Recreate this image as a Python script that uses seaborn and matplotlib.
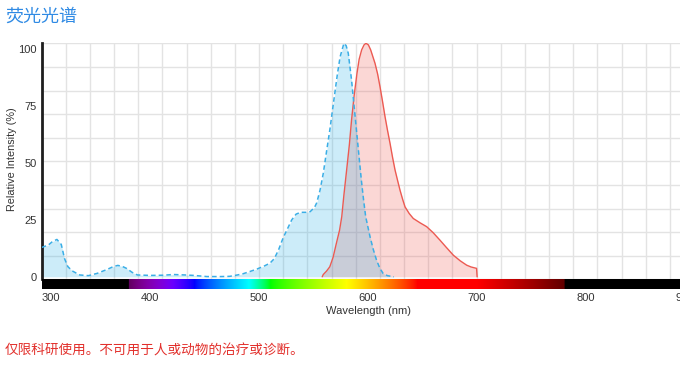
import numpy as np
import pandas as pd
import matplotlib
matplotlib.use("Agg")
import matplotlib.pyplot as plt
import seaborn as sns

# ---------------- data ----------------
ex_wl = [300, 306, 310, 314, 318, 321, 324, 328, 335, 343, 351, 360, 366, 370, 374, 378,
         383, 388, 400, 412, 421, 432, 440, 452, 465, 473, 480, 485, 492, 498, 505, 510,
         514, 518, 522, 526, 530, 534, 538, 543, 547, 551, 553, 556, 559, 562, 565, 568,
         570, 572, 574.5, 578, 580, 582, 585, 588, 591, 594, 596, 598, 602, 605, 608, 611,
         614, 618, 624]
ex_val = [12.9, 13.9, 15.5, 16.4, 14.2, 8.0, 4.5, 2.6, 0.8, 0.5, 1.5, 3.2, 4.5, 5.0, 4.6, 3.7,
          2.0, 0.8, 0.6, 0.7, 1.0, 0.8, 0.6, 0.1, 0.1, 0.2, 0.8, 1.3, 2.4, 3.4, 4.8, 6.0,
          8.0, 12.0, 17.0, 21.0, 25.0, 27.5, 28.3, 28.3, 28.6, 30.5, 32.5, 38.0, 45.4, 55.0, 64.4, 75.0,
          82.0, 89.0, 96.6, 102.5, 101.5, 98.1, 86.4, 71.8, 57.1, 42.5, 34.0, 26.4, 17.6, 12.0, 7.3, 3.8,
          1.5, 0.5, 0.0]

em_wl = [558, 559, 562, 565, 568, 571, 574, 576, 578, 580.5, 583, 585, 587.5, 590, 592, 594.3,
         596.5, 598.3, 600.5, 602.6, 606.6, 609, 611.2, 613.5, 615.8, 618, 620.4, 622.7, 625, 627.5,
         629.6, 632, 634.2, 638, 641.8, 648, 654.1, 660, 666.3, 672, 678.6, 685, 690.9, 695, 700, 700.5]
em_val = [0.0, 1.0, 2.5, 4.4, 8.5, 14.6, 20.5, 26.4, 36.0, 46.9, 58.0, 68.8, 80.0, 89.3, 95.5, 99.6,
          101.8, 102.5, 101.8, 99.6, 93.7, 89.0, 83.4, 77.0, 70.3, 64.5, 58.6, 52.5, 46.9, 42.0,
          38.0, 34.0, 30.7, 27.8, 25.6, 23.7, 22.0, 19.4, 16.1, 13.0, 9.5, 7.0, 5.1, 4.3, 3.7, 0.0]

x_ticks = [300, 400, 500, 600, 700, 800, 900]
y_ticks = [0, 25, 50, 75, 100]

title = "荧光光谱"
footer = "仅限科研使用。不可用于人或动物的治疗或诊断。"
x_label = "Wavelength (nm)"
y_label = "Relative Intensity (%)"

# ---------------- style ----------------
sns.set_style("white")
plt.rcParams["font.family"] = ["Liberation Sans", "Noto Sans CJK SC", "DejaVu Sans"]
cjk = ["Noto Sans CJK SC", "DejaVu Sans"]

W, H = 680, 367
fig = plt.figure(figsize=(W / 100, H / 100), dpi=100)


def box(l, t, r, b):
    return [l / W, 1 - b / H, (r - l) / W, (b - t) / H]


ax = fig.add_axes(box(41.7, 43.3, 694, 279.3))
cax = fig.add_axes(box(41.7, 279.3, 694, 289.3))

ex = pd.DataFrame({"wl": ex_wl, "val": ex_val})
em = pd.DataFrame({"wl": em_wl, "val": em_val})

blue = "#3aaee6"
red = "#ec5a52"

ax.fill_between(em["wl"], em["val"], 0, color="#ee4a44", alpha=0.22, lw=0, zorder=2)
ax.fill_between(ex["wl"], ex["val"], 0, color="#10a8e6", alpha=0.21, lw=0, zorder=2)
sns.lineplot(data=em, x="wl", y="val", ax=ax, color=red, lw=1.0, sort=False, zorder=3)
sns.lineplot(data=ex, x="wl", y="val", ax=ax, color=blue, lw=1.1, sort=False,
             dashes=False, zorder=3).lines[-1].set_dashes([3, 2])

y_lo, y_hi = -1.1, 102.5
ax.set_xlim(300, 900)
ax.set_ylim(y_lo, y_hi)
ax.set_xticks([])
ax.set_xticks(np.linspace(300, 900, 28), minor=True)
ax.set_yticks(y_ticks)
ax.set_yticklabels([str(v) for v in y_ticks])
ax.set_yticks(np.linspace(y_lo, y_hi, 11), minor=True)
ax.tick_params(which="both", length=0)
ax.tick_params(axis="y", labelsize=8, labelcolor="#333333", pad=3.5)
ax.grid(which="minor", color="#e3e3e3", lw=1.0)
ax.grid(which="major", visible=False)
ax.set_axisbelow(True)
ax.set_xlabel("")
ax.set_ylabel("")
for s in ["top", "right", "bottom"]:
    ax.spines[s].set_visible(False)
ax.spines["left"].set_color("#1e1e1e")
ax.spines["left"].set_linewidth(2.0)


# spectrum colour bar
def wl_rgb(w):
    if w < 380 or w > 780:
        return (0, 0, 0)
    if w < 440:
        r, g, b = -(w - 440) / 60, 0, 1
    elif w < 490:
        r, g, b = 0, (w - 440) / 50, 1
    elif w < 510:
        r, g, b = 0, 1, -(w - 510) / 20
    elif w < 580:
        r, g, b = (w - 510) / 70, 1, 0
    elif w < 645:
        r, g, b = 1, -(w - 645) / 65, 0
    else:
        r, g, b = 1, 0, 0
    if w < 420:
        f = 0.3 + 0.7 * (w - 380) / 40
    elif w > 700:
        f = 0.3 + 0.7 * (780 - w) / 80
    else:
        f = 1.0
    return tuple((c * f) ** 0.8 if c > 0 else 0 for c in (r, g, b))


wls = np.arange(300, 901)
img = np.array([[wl_rgb(w) for w in wls]])
cax.imshow(img, extent=(300, 900, 0, 1), aspect="auto", interpolation="bilinear")
cax.set_xlim(300, 900)
cax.set_ylim(0, 1)
cax.set_yticks([])
cax.set_xticks(x_ticks)
cax.set_xticklabels([str(v) for v in x_ticks])
cax.tick_params(axis="x", length=0, pad=2.5, labelsize=8, labelcolor="#333333")
cax.get_xticklabels()[0].set_horizontalalignment("left")
cax.get_xticklabels()[-1].set_horizontalalignment("right")
for s in cax.spines.values():
    s.set_visible(False)

fig.text(368 / W, 1 - 311.5 / H, x_label, ha="center", va="center", fontsize=8, color="#333333")
fig.text(11.7 / W, 1 - 159 / H, y_label, ha="center", va="center", rotation=90,
         fontsize=7.8, color="#333333")
fig.text(5 / W, 1 - 17 / H, title, ha="left", va="center", fontsize=13, color="#2f8ae4", family=cjk)
fig.text(5 / W, 1 - 351 / H, footer, ha="left", va="center", fontsize=9.8, color="#e2302c", family=cjk)

fig.savefig("out.png", dpi=100)
